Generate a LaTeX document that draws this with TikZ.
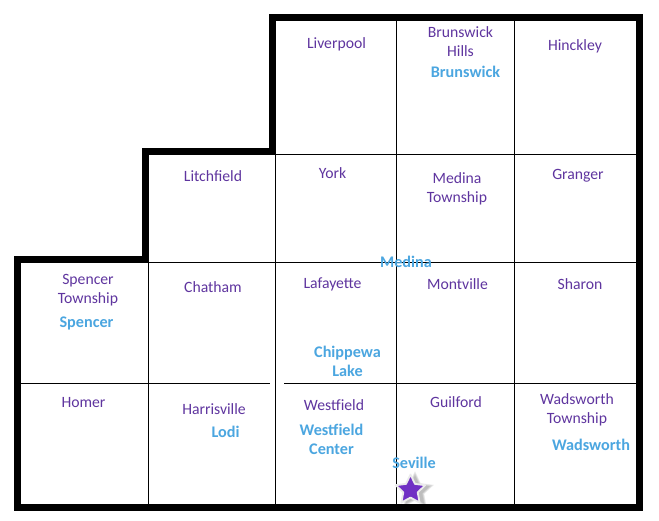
\documentclass[tikz,border=0pt]{standalone}
\usepackage{fontspec}
\setmainfont{Carlito}
\usetikzlibrary{shapes.geometric}
\definecolor{twp}{HTML}{5F359F}
\definecolor{city}{HTML}{4BA6E0}
\definecolor{starfill}{HTML}{7030C4}
\tikzset{
  x=1pt,y=-1pt,
  border/.style={line width=7pt,miter limit=10,line join=miter,line cap=butt},
  gridline/.style={line width=1.1pt,black},
  township/.style={text=twp,font=\fontsize{15.7}{19}\selectfont,align=center,inner sep=0pt},
  placename/.style={text=city,font=\fontsize{16.2}{19}\selectfont\bfseries,align=center,inner sep=0pt},
  starshape/.style={star,star points=5,star point ratio=2.05,inner sep=0pt},
}
\begin{document}
\begin{tikzpicture}
\useasboundingbox (0,0) rectangle (659,520);
\fill[white] (0,0) rectangle (659,520);
% grid
\draw[gridline] (275.5,154.5) -- (636,154.5);
\draw[gridline] (148.5,262.5) -- (636,262.5);
\draw[gridline] (20,383.5) -- (270,383.5);
\draw[gridline] (284,383.5) -- (636,383.5);
\draw[gridline] (148.5,262) -- (148.5,504);
\draw[gridline] (275.5,154) -- (275.5,504);
\draw[gridline] (396.5,21) -- (396.5,504);
\draw[gridline] (514.5,21) -- (514.5,504);
% star shadow, under the border
\foreach \s in {40,37,34,31}{
  \node[starshape,minimum size=\s pt,fill=black,fill opacity=0.07] at (415,491) {};
}
% border
\draw[border] (272,17.5) -- (639.5,17.5) -- (639.5,507.5) -- (17.5,507.5) -- (17.5,259) -- (145,259) -- (145,151.5) -- (272,151.5) -- cycle;
% townships
\node[township] (liverpool) at (336.5,44.5) {Liverpool};
\node[township] (brunswickhills) at (460.5,41.5) {Brunswick\\Hills};
\node[township] (hinckley) at (575,46) {Hinckley};
\node[township] (litchfield) at (213,176.5) {Litchfield};
\node[township] (york) at (332.5,173.5) {York};
\node[township] (medinatwp) at (457,188.5) {Medina\\Township};
\node[township] (granger) at (578,175.5) {Granger};
\node[township] (spencertwp) at (88,290) {Spencer\\Township};
\node[township] (chatham) at (213,287.5) {Chatham};
\node[township] (lafayette) at (332.5,284) {Lafayette};
\node[township] (montville) at (457.5,284.5) {Montville};
\node[township] (sharon) at (580,284.5) {Sharon};
\node[township] (homer) at (83.5,402.5) {Homer};
\node[township] (harrisville) at (214,409.5) {Harrisville};
\node[township] (westfield) at (334,405.5) {Westfield};
\node[township] (guilford) at (456,402.5) {Guilford};
\node[township] (wadsworthtwp) at (577,409.5) {Wadsworth\\Township};
% places
\node[placename] (brunswick) at (465.5,72) {Brunswick};
\node[placename] (medina) at (406,261.5) {Medina};
\node[placename] (spencer) at (86.5,323) {Spencer};
\node[placename] (chippewa) at (347.5,361.5) {Chippewa\\Lake};
\node[placename] (lodi) at (225.5,432) {Lodi};
\node[placename] (westfieldc) at (331.5,439.5) {Westfield\\Center};
\node[placename] (wadsworth) at (591,445) {Wadsworth};
\node[placename] (seville) at (414,463) {Seville};
% star
\node[starshape,minimum size=31pt,fill=starfill,draw=white!92!black,line width=1.8pt,line join=round] (sevillestar) at (410.5,490) {};
\end{tikzpicture}
\end{document}
